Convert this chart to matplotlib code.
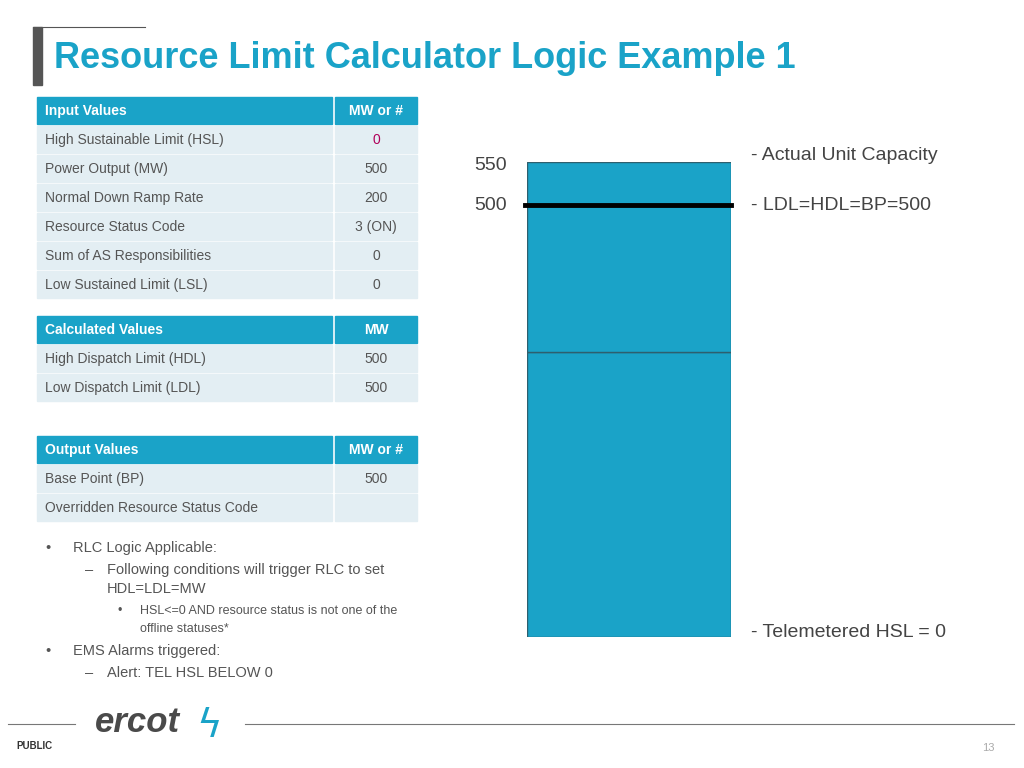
import matplotlib
matplotlib.use("Agg")
import matplotlib.pyplot as plt
from matplotlib.patches import Rectangle

TEAL = "#1AA3C8"
ROWBG = "#E3EEF3"
TXT = "#555555"
FONT = "Liberation Sans"

input_rows = ["High Sustainable Limit (HSL)", "Power Output (MW)", "Normal Down Ramp Rate",
              "Resource Status Code", "Sum of AS Responsibilities", "Low Sustained Limit (LSL)"]
input_vals = ["0", "500", "200", "3 (ON)", "0", "0"]
calc_rows = ["High Dispatch Limit (HDL)", "Low Dispatch Limit (LDL)"]
calc_vals = ["500", "500"]
out_rows = ["Base Point (BP)", "Overridden Resource Status Code"]
out_vals = ["500", ""]

bar_lower = 330
bar_upper = 220
base_point = 500
tick_vals = [550, 500]
bar_labels = [(557, "- Actual Unit Capacity"), (500, "- LDL=HDL=BP=500"), (5, "- Telemetered HSL = 0")]

fig = plt.figure(figsize=(10.24, 7.68), dpi=100)
ax = fig.add_axes([0, 0, 1, 1])
ax.set_xlim(0, 1024)
ax.set_ylim(768, 0)
ax.axis("off")

# title
ax.add_patch(Rectangle((33, 27), 9, 58, color="#555555"))
ax.plot([33, 145], [27, 27], color="#555555", lw=0.8)
ax.text(54, 58, "Resource Limit Calculator Logic Example 1", color=TEAL, fontsize=26,
        fontweight="bold", va="center", family=FONT)


def table(top, header, col2, rows, vals, val_colors=None):
    ax.add_patch(Rectangle((37, top), 295, 27, color=TEAL))
    ax.add_patch(Rectangle((335, top), 82, 27, color=TEAL))
    ax.text(45, top + 14, header, color="white", fontsize=10, fontweight="bold",
            va="center", family=FONT)
    ax.text(376, top + 14, col2, color="white", fontsize=10, fontweight="bold",
            va="center", ha="center", family=FONT)
    for i, (r, v) in enumerate(zip(rows, vals)):
        y = top + 29 * (i + 1)
        ax.add_patch(Rectangle((37, y), 295, 27, color=ROWBG))
        ax.add_patch(Rectangle((335, y), 82, 27, color=ROWBG))
        ax.text(45, y + 14, r, color=TXT, fontsize=10, va="center", family=FONT)
        c = val_colors[i] if val_colors else TXT
        ax.text(376, y + 14, v, color=c, fontsize=10, va="center", ha="center", family=FONT)


table(97, "Input Values", "MW or #", input_rows, input_vals,
      ["#B0005A"] + [TXT] * 5)
table(316, "Calculated Values", "MW", calc_rows, calc_vals)
table(436, "Output Values", "MW or #", out_rows, out_vals)

bullets = [
    (45, 73, 548, "•", "RLC Logic Applicable:"),
    (85, 107, 570, "–", "Following conditions will trigger RLC to set"),
    (None, 107, 589, "", "HDL=LDL=MW"),
    (118, 140, 611, "•", "HSL<=0 AND resource status is not one of the"),
    (None, 140, 629, "", "offline statuses*"),
    (45, 73, 651, "•", "EMS Alarms triggered:"),
    (85, 107, 673, "–", "Alert: TEL HSL BELOW 0"),
]
for bx_, tx, y, b, t in bullets:
    fs = 9 if tx == 140 else 10.5
    if bx_ is not None:
        ax.text(bx_, y, b, color=TXT, fontsize=fs, va="center", family=FONT)
    ax.text(tx, y, t, color=TXT, fontsize=fs, va="center", family=FONT)

# footer
ax.plot([8, 75], [724, 724], color="#777777", lw=0.8)
ax.plot([245, 1014], [724, 724], color="#777777", lw=0.8)
ax.text(95, 722, "ercot", color="#4A4A4A", fontsize=25, fontweight="bold", style="italic",
        va="center", family=FONT)
ax.text(196, 726, "ϟ", color=TEAL, fontsize=28, va="center")
ax.text(16, 746, "PUBLIC", color="#333333", fontsize=7, fontweight="bold", va="center", family=FONT)
ax.text(995, 748, "13", color="#AAAAAA", fontsize=8, ha="right", va="center", family=FONT)

# bar
bx = fig.add_axes([527 / 1024, (768 - 637) / 768, 204 / 1024, 475 / 768])
bx.bar([0], [bar_lower], width=1, color=TEAL, edgecolor="#2E5F6E", lw=1)
bx.bar([0], [bar_upper], bottom=[bar_lower], width=1, color=TEAL, edgecolor="#2E5F6E", lw=1)
bx.plot([-0.51, 0.5], [base_point, base_point], color="black", lw=3.5, clip_on=False)
bx.set_xlim(-0.5, 0.5)
bx.set_ylim(0, bar_lower + bar_upper)
bx.axis("off")
for v in tick_vals:
    bx.text(-0.6, v if v != 550 else 546, str(v), color="#444444", fontsize=14,
            ha="right", va="center", family=FONT)
for v, lab in bar_labels:
    bx.text(0.6, v, lab, color="#444444", fontsize=14,
            ha="left", va="center", family=FONT)

fig.savefig("out.png", dpi=100)
